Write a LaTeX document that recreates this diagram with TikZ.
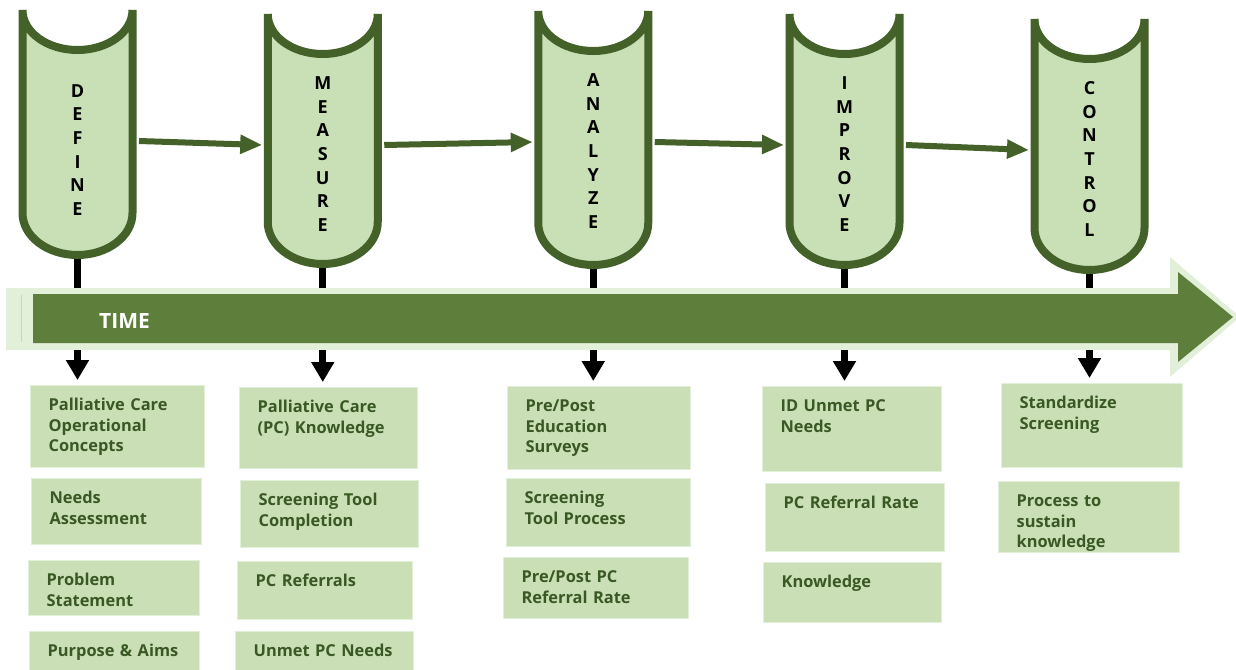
\documentclass[tikz,border=0pt]{standalone}
\usepackage{fontspec}
\setmainfont{Open Sans}
\usetikzlibrary{arrows.meta}

\definecolor{edgegreen}{HTML}{446129}
\definecolor{palegreen}{HTML}{C9DFB5}
\definecolor{bandgreen}{HTML}{5E7F3B}
\definecolor{rimgreen}{HTML}{E2EFD9}
\definecolor{inkgreen}{HTML}{3A5823}
\definecolor{boxgreen}{HTML}{CADFB6}

\begin{document}
\begin{tikzpicture}[
    x=0.5pt, y=-0.5pt,
    scrollshape/.style={fill=palegreen, draw=edgegreen, line width=4pt},
    letters/.style={align=center, inner sep=0pt, font=\fontsize{9}{11.85}\selectfont\bfseries},
    pics/scroll/.style 2 args={code={
        \path[scrollshape] (-55,0) -- (-55,#1-42)
            arc[start angle=180, end angle=0, x radius=55, y radius=42]
            -- (55,0) arc[start angle=0, end angle=180, x radius=55, y radius=40] -- cycle;
        \node[letters] (-t) at (0,140) {#2};
        \coordinate (-w) at (-60.5,131);
        \coordinate (-e) at (61.5,131);
        \coordinate (-b) at (0,#1);
    }},
    flow/.style={-{Triangle[length=11pt, width=9pt]}, line width=3pt, draw=edgegreen},
    stem/.style={line width=3.5pt, draw=black, shorten <=2pt},
    drop/.style={-{Triangle[length=10pt, width=11pt]}, line width=3.5pt, draw=black, shorten >=2.5pt},
    item/.style={anchor=north west, fill=boxgreen, draw=rimgreen, line width=0.6pt, text=inkgreen, align=left, inner xsep=9pt, inner ysep=0pt, text height=12.5pt, font=\fontsize{8.2}{10.3}\selectfont\bfseries},
    timetext/.style={text=white, font=\fontsize{10.5}{12}\selectfont\bfseries}
]
    \useasboundingbox (0,0) rectangle (1236,669);

    % time band
    \fill[rimgreen] (6,288) -- (1170,288) -- (1170,257) -- (1240,317) -- (1170,377) -- (1170,350) -- (6,350) -- cycle;
    \fill[bandgreen] (33,294) -- (1178,294) -- (1178,272) -- (1233,317) -- (1178,362) -- (1178,343) -- (33,343) -- cycle;
    \draw[rimgreen!75!gray, line width=0.5pt] (21.5,295) -- (21.5,342);
    \node[timetext] (time) at (124.5,320.5) {TIME};
    \coordinate (bandtop) at (0,288);
    \coordinate (bandbottom) at (0,350);

    % phases
    \pic (define) at (77.5,10) {scroll={245}{D\\E\\F\\I\\N\\E}};
    \pic (measure) at (322.75,14) {scroll={250}{M\\E\\A\\S\\U\\R\\E}};
    \pic (analyze) at (593.25,11) {scroll={254}{A\\N\\A\\L\\Y\\Z\\E}};
    \pic (improve) at (844.5,14) {scroll={251}{I\\M\\P\\R\\O\\V\\E}};
    \pic (control) at (1089.5,19) {scroll={251}{C\\O\\N\\T\\R\\O\\L}};

    \draw[flow] (define-e) -- (measure-w);
    \draw[flow] (measure-e) -- (analyze-w);
    \draw[flow] (analyze-e) -- (improve-w);
    \draw[flow] (improve-e) -- (control-w);

    \draw[stem] (define-b) -- (define-b |- bandtop);
    \draw[stem] (measure-b) -- (measure-b |- bandtop);
    \draw[stem] (analyze-b) -- (analyze-b |- bandtop);
    \draw[stem] (improve-b) -- (improve-b |- bandtop);
    \draw[stem] (control-b) -- (control-b |- bandtop);

    % define column
    \node[item, text width=69pt, text depth=28.5pt] (pc1) at (30,385) {Palliative Care\\Operational\\Concepts};
    \node[item, text width=67pt, text depth=20.5pt] (pc2) at (31,478) {Needs\\Assessment};
    \node[item, text width=67.5pt, text depth=15pt] (pc3) at (28,560) {Problem\\Statement};
    \node[item, text width=67pt, text depth=7.5pt] (pc4) at (29,631) {Purpose~\&~Aims};

    % measure column
    \node[item, text width=71pt, text depth=28pt] (ms1) at (239,387) {Palliative Care\\(PC)~Knowledge};
    \node[item, text width=71pt, text depth=21pt] (ms2) at (240,480) {Screening~Tool\\Completion};
    \node[item, text width=69.5pt, text depth=16.5pt] (ms3) at (237,561) {PC Referrals};
    \node[item, text width=71pt, text depth=7.5pt] (ms4) at (235,631) {Unmet~PC~Needs};

    % analyze column
    \node[item, text width=73.5pt, text depth=29pt] (an1) at (507,386) {Pre/Post\\Education\\Surveys};
    \node[item, text width=74pt, text depth=21.5pt] (an2) at (506,478) {Screening\\Tool~Process};
    \node[item, text width=74.5pt, text depth=18pt] (an3) at (503,557) {Pre/Post~PC\\Referral~Rate};

    % improve column
    \node[item, text width=71.5pt, text depth=30pt] (im1) at (762,386) {ID~Unmet~PC\\Needs};
    \node[item, text width=71.5pt, text depth=21.5pt] (im2) at (765,483) {PC~Referral~Rate};
    \node[item, text width=71pt, text depth=17.5pt] (im3) at (763,562) {Knowledge};

    % control column
    \node[item, text width=72.5pt, text depth=29.5pt] (ct1) at (1001,383) {Standardize\\Screening};
    \node[item, text width=72.5pt, text depth=23pt] (ct2) at (998,481) {Process~to\\sustain\\knowledge};

    \draw[drop] (define-b |- bandbottom) -- (define-b |- pc1.north);
    \draw[drop] (measure-b |- bandbottom) -- (measure-b |- ms1.north);
    \draw[drop] (analyze-b |- bandbottom) -- (analyze-b |- an1.north);
    \draw[drop] (improve-b |- bandbottom) -- (improve-b |- im1.north);
    \draw[drop] (control-b |- bandbottom) -- (control-b |- ct1.north);
\end{tikzpicture}
\end{document}
